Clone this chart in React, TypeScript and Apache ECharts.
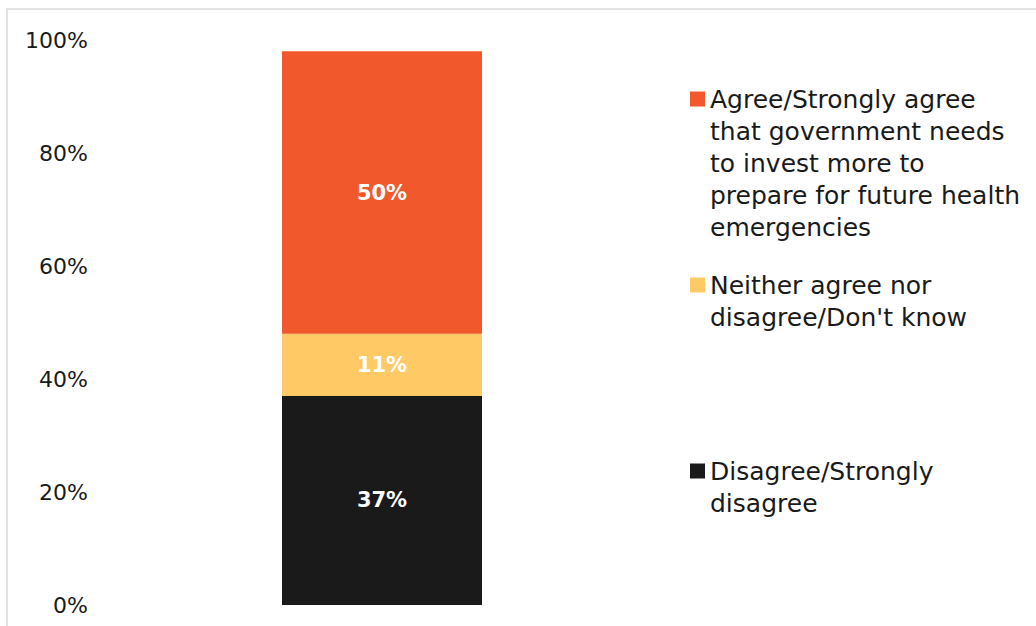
import React, { useEffect, useRef } from "react";
import * as echarts from "echarts";

const categories = [""];
const seriesNames = [
  "Disagree/Strongly disagree",
  "Neither agree nor disagree/Don't know",
  "Agree/Strongly agree that government needs to invest more to prepare for future health emergencies",
];
const legendLines = [
  ["Disagree/Strongly", "disagree"],
  ["Neither agree nor", "disagree/Don't know"],
  ["Agree/Strongly agree", "that government needs", "to invest more to", "prepare for future health", "emergencies"],
];
const disagreeValues = [37];
const neitherValues = [11];
const agreeValues = [50];
const seriesValues = [disagreeValues, neitherValues, agreeValues];
const colors = ["#1a1a1a", "#ffca66", "#f1582b"];
const legendCenters = [471, 285, 99];

const FONT = "'DejaVu Sans', sans-serif";
const LH = 32;

export default function App() {
  const ref = useRef<HTMLDivElement>(null);
  useEffect(() => {
    if (!ref.current) return;
    const chart = echarts.init(ref.current, undefined, { renderer: "svg" });
    const legends = seriesNames.map((name, i) => {
      const n = legendLines[i].length;
      const block = (2 * n - 1) * LH;
      return {
        data: [name],
        orient: "vertical",
        left: 690,
        top: legendCenters[i] - block / 2,
        padding: 0,
        itemWidth: 15,
        itemHeight: 15,
        icon: "rect",
        selectedMode: false,
        formatter: () => "\n".repeat(n - 1) + legendLines[i].join("\n"),
        textStyle: {
          fontFamily: FONT,
          fontSize: 25,
          lineHeight: LH,
          color: "#1a1a1a",
        },
      };
    });
    chart.setOption({
      animation: false,
      backgroundColor: "#ffffff",
      graphic: [
        {
          type: "rect",
          shape: { x: 7, y: 9, width: 1200, height: 800 },
          style: { fill: "none", stroke: "#e2e2e2", lineWidth: 2 },
          silent: true,
        },
      ],
      legend: legends,
      grid: { left: 100, right: 372, top: 40, bottom: 21 },
      xAxis: {
        type: "category",
        data: categories,
        axisLine: { show: false },
        axisTick: { show: false },
        axisLabel: { show: false },
      },
      yAxis: {
        type: "value",
        min: 0,
        max: 100,
        interval: 20,
        splitLine: { show: false },
        axisLine: { show: false },
        axisTick: { show: false },
        axisLabel: {
          formatter: "{value}%",
          fontFamily: FONT,
          fontSize: 22,
          color: "#1a1a1a",
          margin: 12,
        },
      },
      series: seriesNames.map((name, i) => ({
        name,
        type: "bar",
        stack: "total",
        barWidth: 200,
        data: seriesValues[i],
        itemStyle: { color: colors[i] },
        label: {
          show: true,
          position: "inside",
          formatter: "{c}%",
          color: "#ffffff",
          fontFamily: FONT,
          fontWeight: "bold",
          fontSize: 21,
        },
      })),
    });
    return () => chart.dispose();
  }, []);
  return (
    <div
      ref={ref}
      style={{ position: "absolute", left: 0, top: 0, width: 1036, height: 626 }}
    />
  );
}
